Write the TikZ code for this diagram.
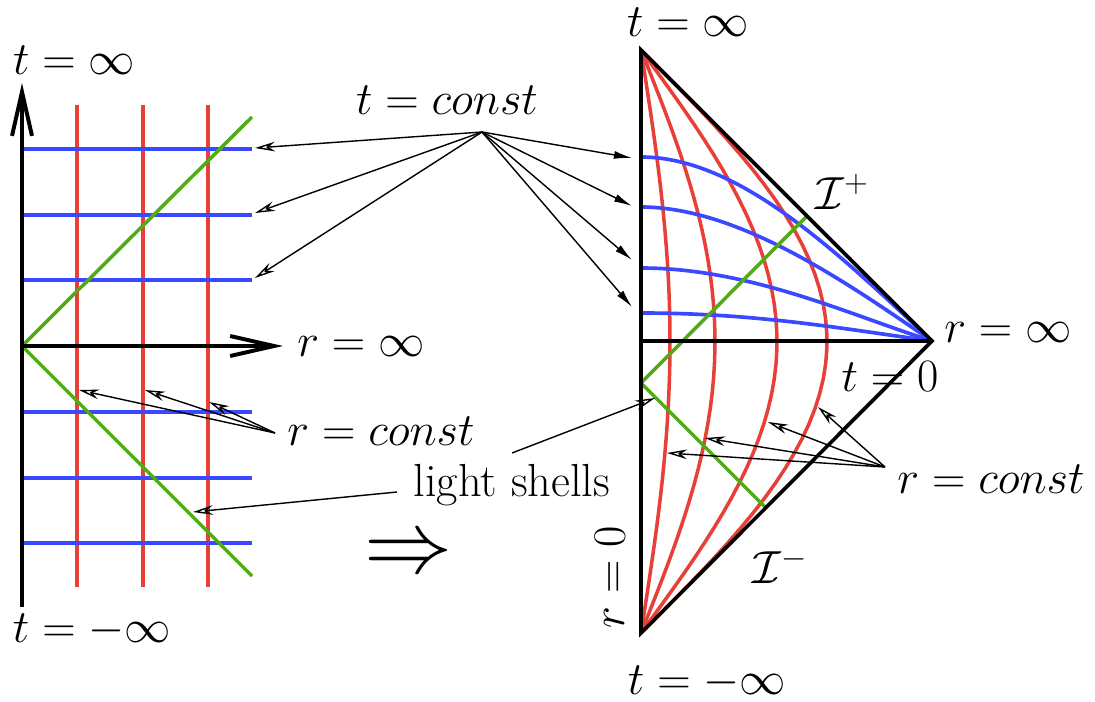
\RequirePackage{fix-cm}
\documentclass[tikz,border=0pt]{standalone}
\usepackage{amsmath,amssymb}
\usetikzlibrary{arrows.meta}
\definecolor{lred}{RGB}{232,64,56}
\definecolor{lblue}{RGB}{58,72,255}
\definecolor{lgreen}{RGB}{82,170,24}
\tikzset{
 rl/.style={draw=lred,line width=2.5pt},
 bl/.style={draw=lblue,line width=2.6pt},
 gl/.style={draw=lgreen,line width=2.5pt},
 ax/.style={draw=black,line width=2.8pt},
 axa/.style={ax,-{Straight Barb[length=11mm,width=5mm]}},
 pa/.style={draw=black,line width=1pt,-{Stealth[open,length=5mm,width=2.4mm]}},
 pf/.style={draw=black,line width=1pt,-{Latex[length=4.5mm,width=2mm]}}}

\begin{document}
\begin{tikzpicture}[x=0.25mm,y=-0.25mm,font=\fontsize{33}{40}\selectfont,
  every node/.style={inner sep=1pt}]
 \useasboundingbox (0,0) rectangle (1095,702);
 % flat space
 \draw[rl] (77,105)--(77,587) (143,105)--(143,587) (208,105)--(208,587);
 \draw[bl] (24,149)--(252,149) (24,215)--(252,215) (24,280)--(252,280)
  (24,412)--(252,412) (24,478)--(252,478) (24,543)--(252,543);
 \draw[gl] (252,117)--(22,346)--(252,576);
 \draw[axa] (22,607)--(22,83);
 \draw[axa] (22,346)--(283,346);
 % Penrose diagram
 \draw[rl] plot[domain=-90:90,samples=40] ({641+29*cos(\x)},{341.5+3.2389*\x});
 \draw[rl] plot[domain=-90:90,samples=40] ({641+74*cos(\x)},{341.5+3.2389*\x});
 \draw[rl] plot[domain=-90:90,samples=40] ({641+136*cos(\x)},{341.5+3.2389*\x});
 \draw[rl] plot[domain=-90:90,samples=40] ({641+186*cos(\x)},{341.5+3.2389*\x});
 \draw[bl] (641,157) .. controls (740,157) and (840,255) .. (932,341);
 \draw[bl] (641,207) .. controls (740,207) and (850,285) .. (932,341);
 \draw[bl] (641,268) .. controls (750,268) and (850,315) .. (932,341);
 \draw[bl] (641,313) .. controls (760,313) and (850,330) .. (932,341);
 \draw[gl] (807,216)--(641,383)--(765,507);
 \draw[ax,line width=2.6pt] (641,633)--(641,50)--(932,341)--cycle (641,341)--(932,341);
 % labels
 \node (tinf) at (74,60) {$t=\infty$};
 \node (tminf) at (92,630) {$t=-\infty$};
 \node (rinf) at (361,347) {$r=\infty$};
 \node (tconst) at (447,100) {$t=const$};
 \node (rconst) at (381,431) {$r=const$};
 \node (shells) at (512,485) {light shells};
 \node[scale=1.9,inner sep=0pt] (impl) at (409,556) {$\Rightarrow$};
 \node (ptinf) at (688,22) {$t=\infty$};
 \node (ptminf) at (707,682) {$t=-\infty$};
 \node (prinf) at (1008,333) {$r=\infty$};
 \node (pt0) at (890,377) {$t=0$};
 \node (scrp) at (842,192) {$\mathcal{I}^+$};
 \node (scrm) at (780,566) {$\mathcal{I}^-$};
 \node[rotate=90] (pr0) at (610,577) {$r=0$};
 \node (prconst) at (991,479) {$r=const$};
 % pointers
 \coordinate (tcs) at (482,132);
 \coordinate (tl1) at (255,148);
 \coordinate (tl2) at (255,213);
 \coordinate (tl3) at (255,278);
 \coordinate (tr1) at (632,158);
 \coordinate (tr2) at (632,206);
 \coordinate (tr3) at (632,260);
 \coordinate (tr4) at (632,307);
 \coordinate (rcs) at (275,433);
 \coordinate (rl1) at (79,390);
 \coordinate (rl2) at (145,390);
 \coordinate (rl3) at (209,402);
 \coordinate (prs) at (885,467);
 \coordinate (rr1) at (818,407);
 \coordinate (rr2) at (768,422);
 \coordinate (rr3) at (705,438);
 \coordinate (rr4) at (667,453);
 \coordinate (lsl) at (397,492);
 \coordinate (lsr) at (512,453);
 \coordinate (ll) at (193,512);
 \coordinate (lr) at (655,398);
 \draw[pa] (tcs)--(tl1);
 \draw[pa] (tcs)--(tl2);
 \draw[pa] (tcs)--(tl3);
 \draw[pf] (tcs)--(tr1);
 \draw[pf] (tcs)--(tr2);
 \draw[pf] (tcs)--(tr3);
 \draw[pf] (tcs)--(tr4);
 \draw[pa] (rcs)--(rl1);
 \draw[pa] (rcs)--(rl2);
 \draw[pa] (rcs)--(rl3);
 \draw[pa] (prs)--(rr1);
 \draw[pa] (prs)--(rr2);
 \draw[pa] (prs)--(rr3);
 \draw[pa] (prs)--(rr4);
 \draw[pa] (lsl)--(ll);
 \draw[pa] (lsr)--(lr);
\end{tikzpicture}
\end{document}
